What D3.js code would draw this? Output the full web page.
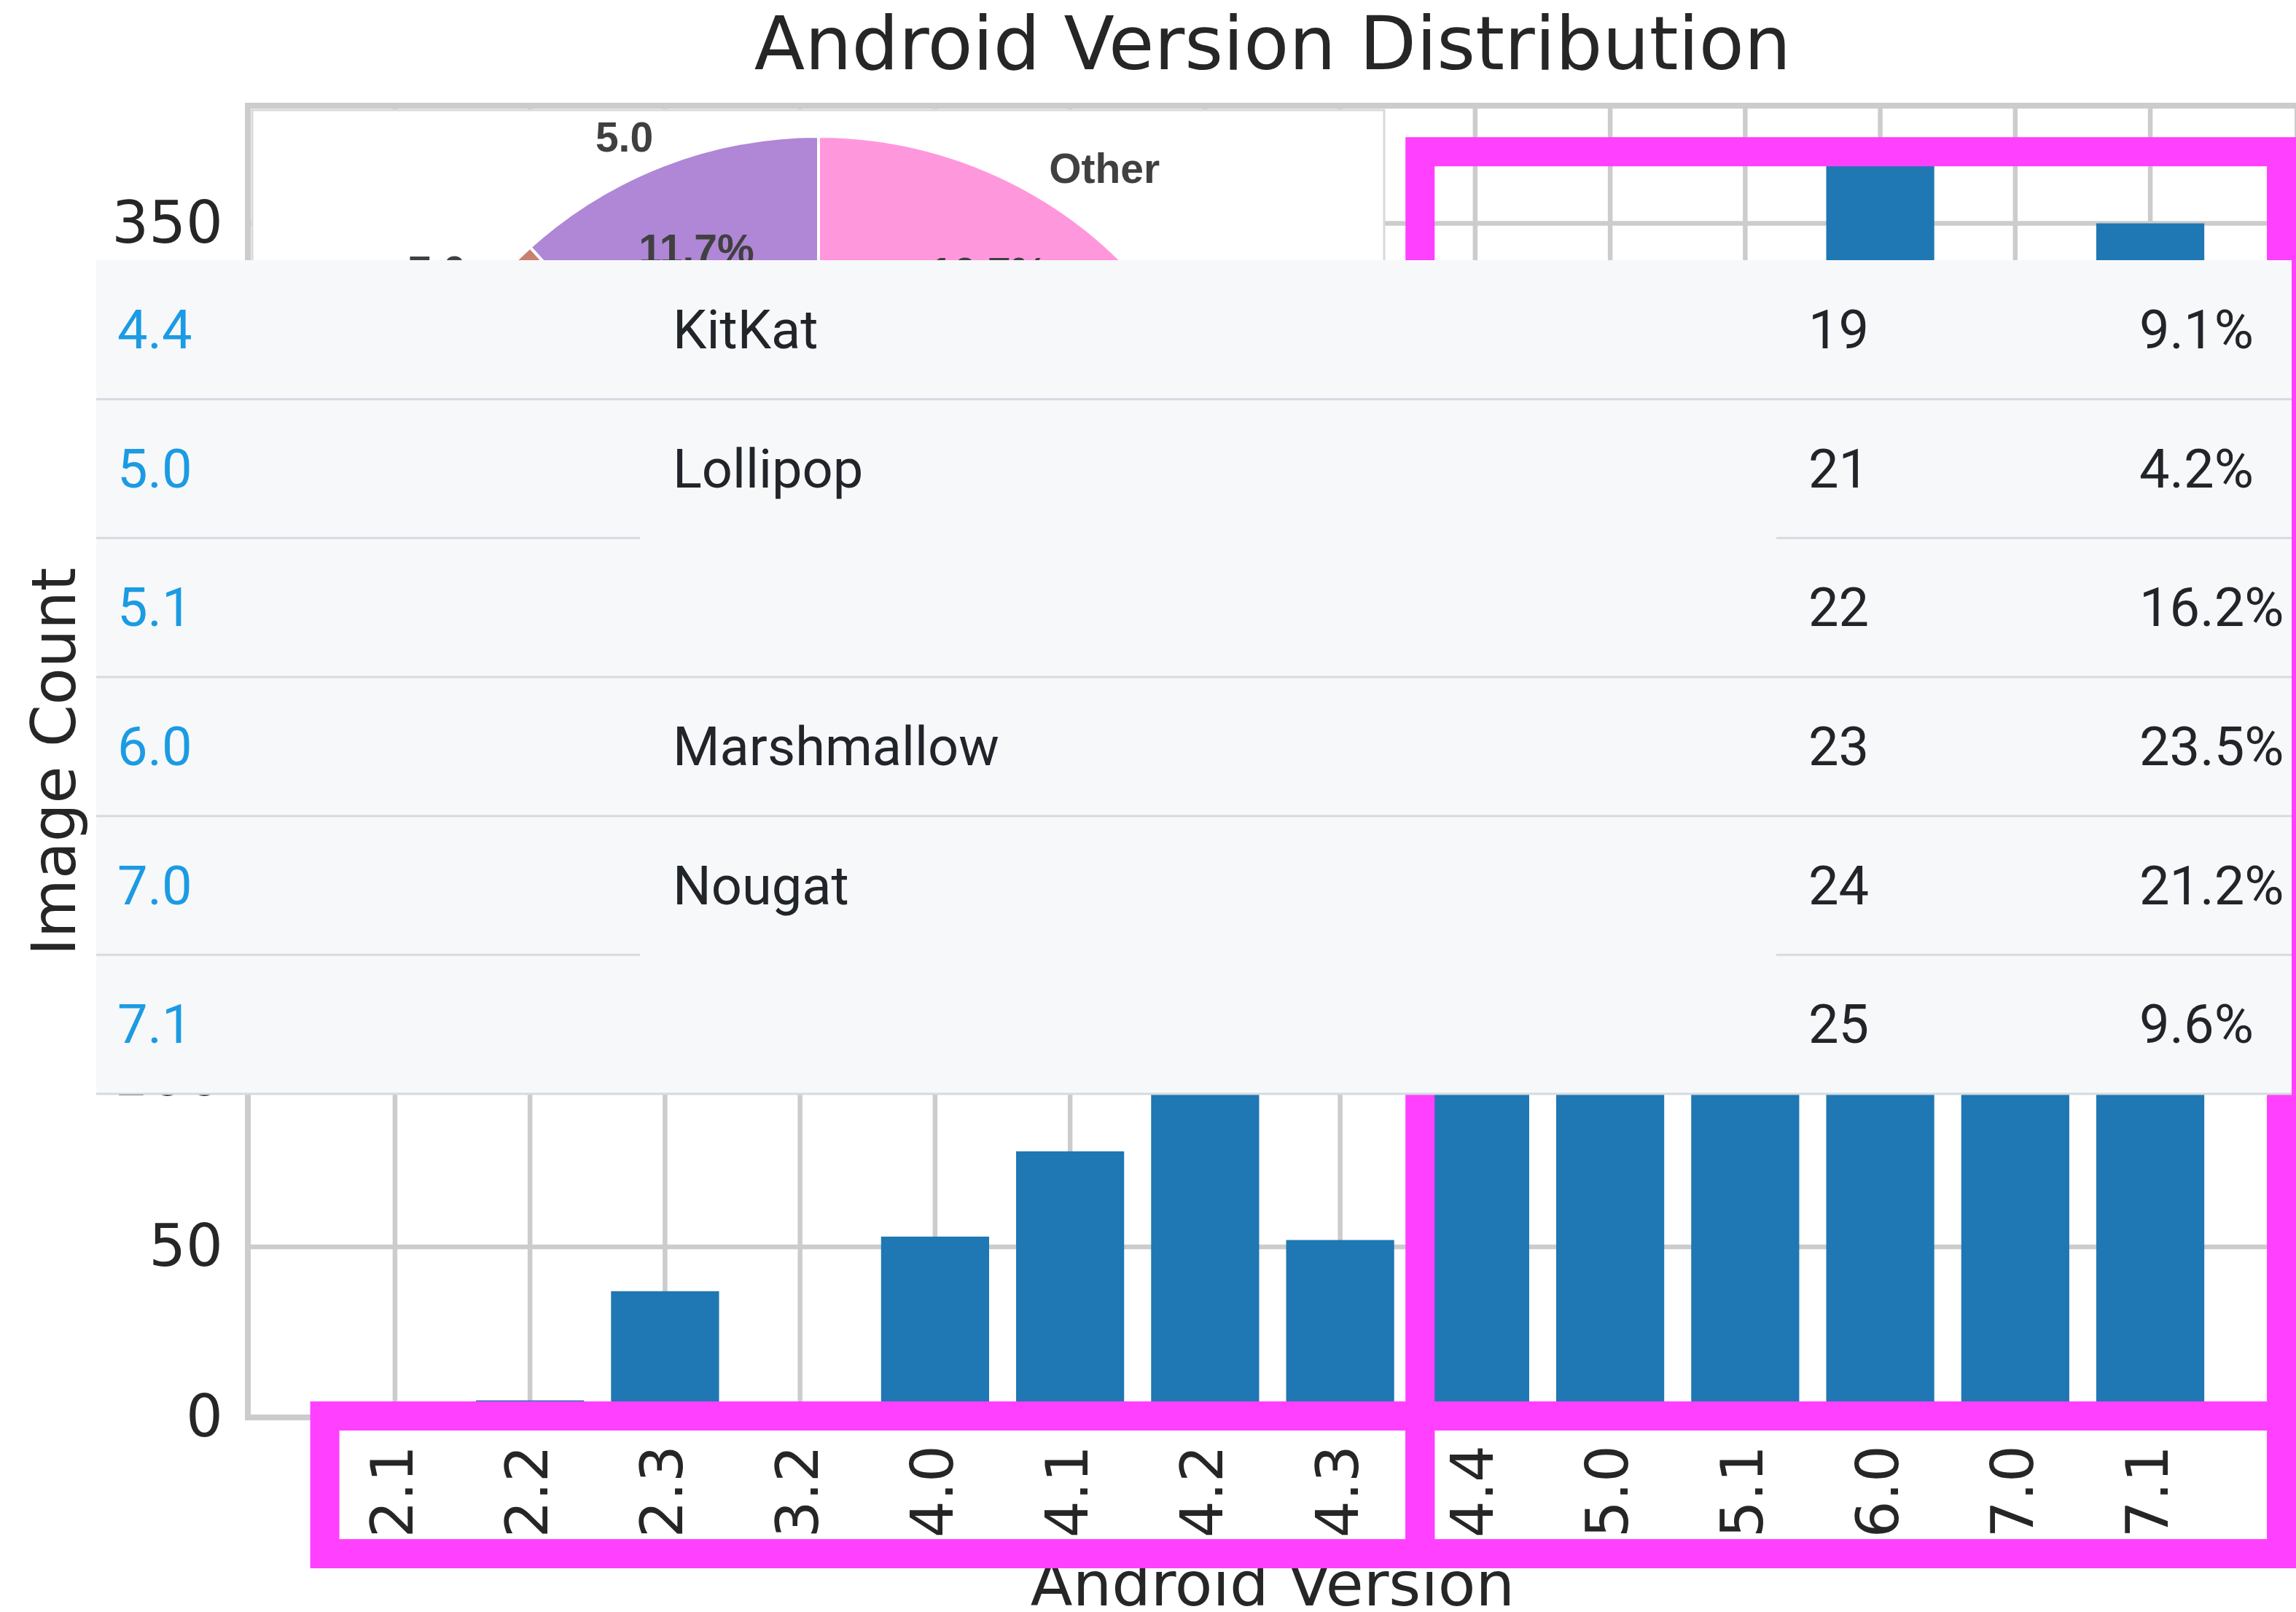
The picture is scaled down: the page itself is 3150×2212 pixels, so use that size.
<!DOCTYPE html>
<html lang="en">
<head>
  <meta charset="UTF-8">
  <title>Android Version Distribution</title>
  <script src="https://d3js.org/d3.v7.min.js"></script>
  <style>
    body { margin: 0; background: #ffffff; }
    svg text { font-family: "DejaVu Sans", sans-serif; fill: #262626; }
    .axis .domain { stroke: none; }
  </style>
</head>
<body>
  <svg id="chart" width="3150" height="2212"></svg>
  <script>
    // bar chart data
    const versions = ["2.1", "2.2", "2.3", "3.2", "4.0", "4.1", "4.2", "4.3", "4.4", "5.0", "5.1", "6.0", "7.0", "7.1"];
    const imageCounts = [0, 5, 37, 0, 53, 78, 150, 52, 240, 250, 290, 370, 300, 350];
    const yTicks = [0, 50, 100, 150, 200, 250, 300, 350];

    // inset pie (mostly hidden behind the table)
    const pieLabels = ["5.0", "7.0", "6.0", "7.1", "5.1", "4.4", "Other"];
    const pieShares = [11.7, 4.4, 22.0, 18.5, 15.2, 11.5, 16.7];
    const pieColors = ["#b086d6", "#c98070", "#8fc98f", "#f2b37a", "#9ec4e8", "#e8e07a", "#ff97dd"];

    // pasted version table
    const tableVersions = ["4.4", "5.0", "5.1", "6.0", "7.0", "7.1"];
    const tableNames = ["KitKat", "Lollipop", "", "Marshmallow", "Nougat", ""];
    const tableApi = [19, 21, 22, 23, 24, 25];
    const tableShares = ["9.1%", "4.2%", "16.2%", "23.5%", "21.2%", "9.6%"];

    const svg = d3.select("svg#chart");
    const plot = {left: 340, right: 3152, top: 145, bottom: 1945};

    const x = d3.scaleBand().domain(versions)
                .range([plot.left, plot.right])
                .paddingInner(0.2).paddingOuter(0.69);
    const xc = v => x(v) + x.bandwidth() / 2;
    const y = d3.scaleLinear().domain([0, 384.5]).range([plot.bottom, plot.top]);

    // gridlines
    let grid = svg.append("g").attr("id", "grid");
    grid.selectAll("line.h").data(yTicks).join("line")
        .attr("class", "h")
        .attr("x1", plot.left).attr("x2", plot.right)
        .attr("y1", d => y(d)).attr("y2", d => y(d))
        .attr("stroke", "#cccccc").attr("stroke-width", 6.5);
    grid.selectAll("line.v").data(versions).join("line")
        .attr("class", "v")
        .attr("x1", d => xc(d)).attr("x2", d => xc(d))
        .attr("y1", plot.top).attr("y2", plot.bottom)
        .attr("stroke", "#cccccc").attr("stroke-width", 6.5);

    // bars
    svg.append("g").attr("id", "bars")
       .selectAll("rect").data(versions).join("rect")
       .attr("x", d => x(d))
       .attr("y", (d, i) => y(imageCounts[i]))
       .attr("width", x.bandwidth())
       .attr("height", (d, i) => y(0) - y(imageCounts[i]))
       .attr("fill", "#1f77b4");

    // frame
    svg.append("rect")
       .attr("x", plot.left).attr("y", plot.top)
       .attr("width", plot.right - plot.left).attr("height", plot.bottom - plot.top)
       .attr("fill", "none").attr("stroke", "#cccccc").attr("stroke-width", 8);

    // axes
    let leftAxis = d3.axisLeft(y).tickValues(yTicks).tickSize(0).tickPadding(34);
    svg.append("g").attr("class", "axis")
       .attr("transform", `translate(${plot.left},0)`)
       .call(leftAxis)
       .selectAll("text")
       .style("font-size", "80px").style("fill", "#262626")
       .style("font-family", "DejaVu Sans");

    let bottomAxis = d3.axisBottom(x).tickSize(0);
    svg.append("g").attr("class", "axis")
       .attr("transform", `translate(0,${plot.bottom})`)
       .call(bottomAxis)
       .selectAll("text")
       .attr("transform", "rotate(-90)")
       .attr("x", -38).attr("y", 0).attr("dy", "0.3em")
       .attr("text-anchor", "end")
       .style("font-size", "80px").style("fill", "#262626")
       .style("font-family", "DejaVu Sans");

    svg.append("text")
       .attr("x", (plot.left + plot.right) / 2).attr("y", 95)
       .attr("text-anchor", "middle")
       .style("font-size", "101.5px")
       .text("Android Version Distribution");

    svg.append("text")
       .attr("x", (plot.left + plot.right) / 2).attr("y", 2203)
       .attr("text-anchor", "middle")
       .style("font-size", "84.5px")
       .text("Android Version");

    svg.append("text")
       .attr("transform", `translate(103,${(plot.top + plot.bottom) / 2}) rotate(-90)`)
       .attr("text-anchor", "middle")
       .style("font-size", "83px")
       .text("Image Count");

    // inset pie panel
    let inset = svg.append("g").attr("id", "inset");
    inset.append("rect")
         .attr("x", 346).attr("y", 151).attr("width", 1553).attr("height", 1320)
         .attr("fill", "#ffffff").attr("stroke", "#d9d9d9").attr("stroke-width", 3);

    const pieCx = 1123, pieCy = 777, pieR = 590;
    let total = d3.sum(pieShares);
    let cum = 0;
    let slices = pieShares.map((s, i) => {
      let a0 = cum / total * 2 * Math.PI;
      cum += s;
      let a1 = cum / total * 2 * Math.PI;
      return {label: pieLabels[i], share: s, color: pieColors[i], a0: a0, a1: a1};
    });
    const arc = d3.arc().innerRadius(0).outerRadius(pieR);
    let pieG = inset.append("g").attr("transform", `translate(${pieCx},${pieCy})`);
    pieG.selectAll("path").data(slices).join("path")
        .attr("d", d => arc({startAngle: -d.a1, endAngle: -d.a0}))
        .attr("fill", d => d.color)
        .attr("stroke", "#ffffff").attr("stroke-width", 4);

    slices.forEach(d => {
      let mid = Math.PI / 2 + (d.a0 + d.a1) / 2;
      let lx = 1.07 * pieR * Math.cos(mid), ly = -1.07 * pieR * Math.sin(mid);
      pieG.append("text")
          .attr("x", lx).attr("y", ly)
          .attr("text-anchor", lx < 0 ? "end" : "start")
          .attr("dominant-baseline", "central")
          .style("font-family", "Liberation Sans").style("font-weight", "bold")
          .style("font-size", "57px").style("fill", "#404040")
          .text(d.label);
      let px = 0.79 * pieR * Math.cos(mid), py = -0.79 * pieR * Math.sin(mid);
      pieG.append("text")
          .attr("x", px).attr("y", py)
          .attr("text-anchor", "middle")
          .attr("dominant-baseline", "central")
          .style("font-family", "Liberation Sans").style("font-weight", "bold")
          .style("font-size", "57px").style("fill", "#404040")
          .text(d.share.toFixed(1) + "%");
    });

    // magenta highlight boxes
    const splitX = (xc("4.3") + xc("4.4")) / 2 + 17;
    const boxes = [
      {x0: xc("2.1") - 0.52 * x.step(), x1: splitX, y0: y(0) - 2, y1: 2132},
      {x0: splitX, x1: xc("7.1") + 180, y0: y(371), y1: y(0) - 2},
      {x0: splitX, x1: xc("7.1") + 180, y0: y(0) - 2, y1: 2132}
    ];
    svg.append("g").attr("id", "highlights")
       .selectAll("rect").data(boxes).join("rect")
       .attr("x", d => d.x0).attr("y", d => d.y0)
       .attr("width", d => d.x1 - d.x0).attr("height", d => d.y1 - d.y0)
       .attr("fill", "none").attr("stroke", "#ff40ff").attr("stroke-width", 40);

    // table overlay
    const tab = {left: 132, right: 3144, top: 357, bottom: 1501};
    const rowH = (tab.bottom - tab.top) / tableVersions.length;
    const colX = [161, 923, 2481, 2935];
    let table = svg.append("g").attr("id", "table");
    table.append("rect")
         .attr("x", tab.left).attr("y", tab.top)
         .attr("width", tab.right - tab.left).attr("height", tab.bottom - tab.top)
         .attr("fill", "#f7f8fa");

    tableVersions.forEach((v, i) => {
      let yb = tab.top + rowH * (i + 1);
      if (i < tableVersions.length - 1 && tableNames[i + 1] === "") {
        table.append("line").attr("x1", tab.left).attr("x2", 878)
             .attr("y1", yb).attr("y2", yb)
             .attr("stroke", "#d4dbe0").attr("stroke-width", 3);
        table.append("line").attr("x1", 2437).attr("x2", tab.right)
             .attr("y1", yb).attr("y2", yb)
             .attr("stroke", "#d4dbe0").attr("stroke-width", 3);
      } else {
        table.append("line").attr("x1", tab.left).attr("x2", tab.right)
             .attr("y1", yb).attr("y2", yb)
             .attr("stroke", "#d4dbe0").attr("stroke-width", 3);
      }
      let yc = tab.top + rowH * (i + 0.5);
      let cells = [v, tableNames[i], tableApi[i], tableShares[i]];
      cells.forEach((c, j) => {
        table.append("text")
             .attr("x", colX[j]).attr("y", yc)
             .attr("dominant-baseline", "central")
             .style("font-family", "Roboto").style("font-size", "74px")
             .style("fill", j === 0 ? "#1b9be3" : "#212529")
             .text(c);
      });
    });
  </script>
</body>
</html>
